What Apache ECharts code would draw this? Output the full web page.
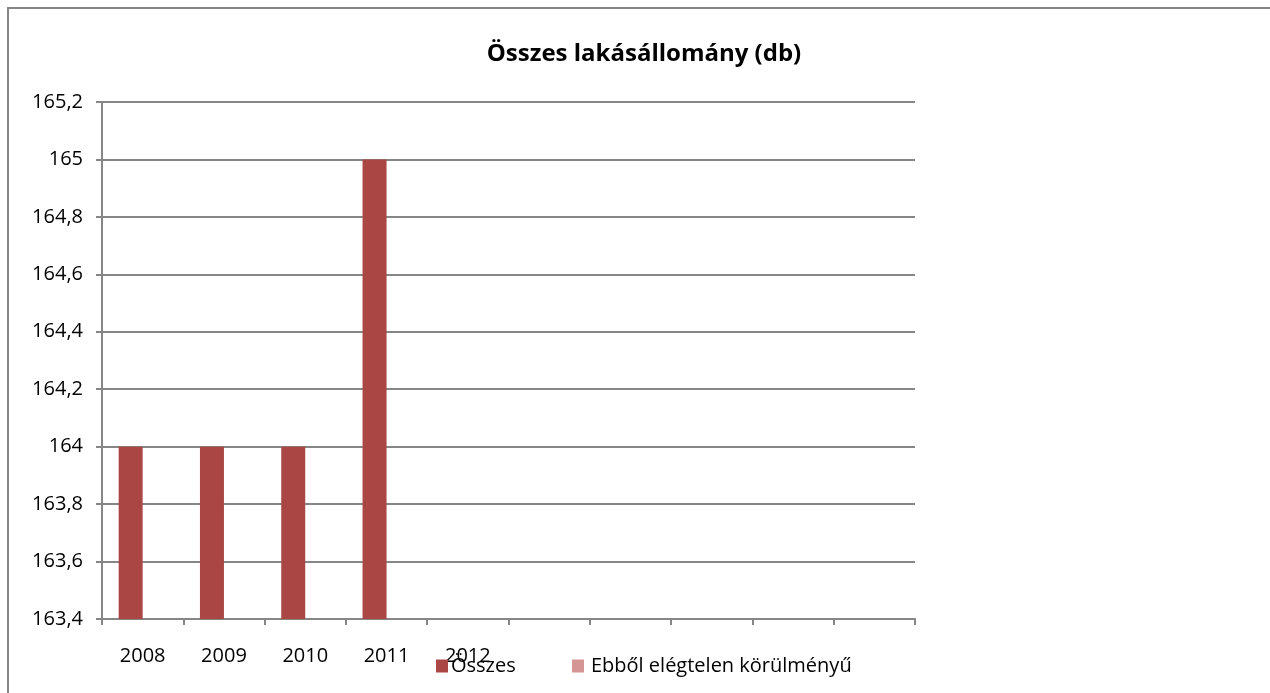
<!DOCTYPE html>
<html>
<head>
<meta charset="utf-8">
<script src="https://cdn.jsdelivr.net/npm/echarts@6/dist/echarts.min.js"></script>
<style>
  html, body { margin: 0; padding: 0; background: #fff; }
  #chart { width: 1270px; height: 693px; }
</style>
</head>
<body>
<div id="chart"></div>
<script>
var years = ['2008', '2009', '2010', '2011', '2012', '', '', '', '', ''];
var osszes = [164, 164, 164, 165, null, null, null, null, null, null];
var elegtelen = [null, null, null, null, null, null, null, null, null, null];
var yTicks = { min: 163.4, max: 165.2, step: 0.2 };

var chart = echarts.init(document.getElementById('chart'));
var fontName = 'Open Sans';

var option = {
    backgroundColor: '#ffffff',
    animation: false,
    title: {
        text: 'Összes lakásállomány (db)',
        left: 639,
        textAlign: 'center',
        top: 37,
        textStyle: {
            fontFamily: fontName,
            fontSize: 24,
            fontWeight: 'bold',
            color: '#000'
        }
    },
    graphic: [{
        type: 'rect',
        shape: { x: 8, y: 8, width: 1300, height: 700 },
        style: { fill: 'none', stroke: '#868686', lineWidth: 2 },
        silent: true
    }],
    legend: [
        {
            data: ['Összes'],
            left: 431,
            top: 651,
            itemWidth: 12,
            itemHeight: 13,
            icon: 'rect',
            textStyle: { fontFamily: fontName, fontSize: 20, color: '#000', padding: [0, 0, 0, -2] }
        },
        {
            data: ['Ebből elégtelen körülményű'],
            left: 567,
            top: 651,
            itemWidth: 12,
            itemHeight: 13,
            icon: 'rect',
            textStyle: { fontFamily: fontName, fontSize: 20, color: '#000', padding: [0, 0, 0, 2] }
        }
    ],
    grid: {
        left: 102,
        right: 355,
        top: 102,
        bottom: 74,
        containLabel: false
    },
    xAxis: {
        type: 'category',
        data: years,
        axisLine: { lineStyle: { color: '#868686', width: 2 } },
        axisTick: { show: true, interval: 0, length: 6, lineStyle: { color: '#868686', width: 2 } },
        axisLabel: {
            interval: 0,
            margin: 27,
            fontFamily: fontName,
            fontSize: 20,
            color: '#000'
        },
        splitLine: { show: false }
    },
    yAxis: {
        type: 'value',
        min: yTicks.min,
        max: yTicks.max,
        interval: yTicks.step,
        axisLine: { show: true, lineStyle: { color: '#868686', width: 2 } },
        axisTick: { show: true, length: 6, lineStyle: { color: '#868686', width: 2 } },
        axisLabel: {
            margin: 19,
            fontFamily: fontName,
            fontSize: 20,
            color: '#000',
            formatter: function (v) {
                return String(Math.round(v * 10) / 10).replace('.', ',');
            }
        },
        splitLine: { show: true, lineStyle: { color: '#868686', width: 2 } }
    },
    series: [
        {
            name: 'Összes',
            type: 'bar',
            data: osszes,
            barWidth: 24,
            barGap: '0%',
            itemStyle: { color: '#AA4644' }
        },
        {
            name: 'Ebből elégtelen körülményű',
            type: 'bar',
            data: elegtelen,
            barWidth: 24,
            barGap: '0%',
            itemStyle: { color: '#D69595' }
        }
    ]
};

chart.setOption(option);
</script>
</body>
</html>
